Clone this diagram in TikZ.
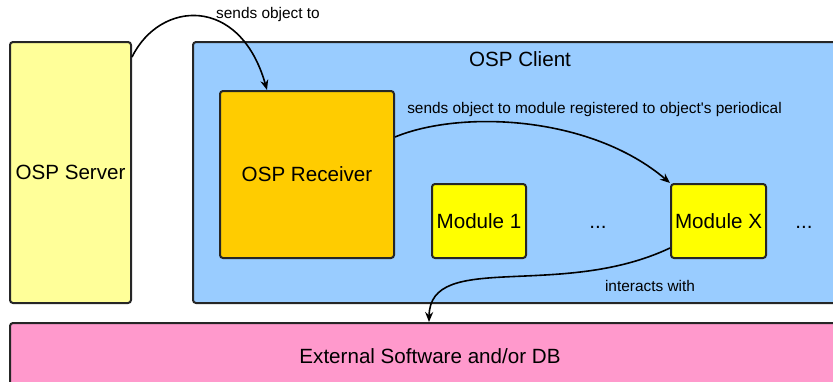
\documentclass[tikz,border=0pt]{standalone}
\usepackage{fontspec}
\setmainfont{Liberation Sans}
\usetikzlibrary{arrows.meta}

\definecolor{serveur}{HTML}{FFFF99}
\definecolor{client}{HTML}{99CCFF}
\definecolor{recepteur}{HTML}{FFCC00}
\definecolor{module}{HTML}{FFFF00}
\definecolor{externe}{HTML}{FF99CC}

\begin{document}
\begin{tikzpicture}[x=0.5pt,y=-0.5pt,
  boite/.style={draw=black!85,line width=1pt,rounded corners=1.5pt,inner sep=0pt,
    font=\fontsize{10.3}{12}\selectfont},
  fleche/.style={-{Stealth[length=5pt,width=4pt]},line width=0.8pt},
  etiq/.style={font=\fontsize{7.7}{9}\selectfont,inner sep=0pt}]

% cadre de l'image
\useasboundingbox (0,0) rectangle (833,381);
\clip (0,0) rectangle (833,381);

% les grandes boites
\node[boite,fill=serveur,minimum width=60.5pt,minimum height=130.5pt] (server) at (70.5,172.5) {OSP Server};
\node[boite,fill=client,minimum width=328.5pt,minimum height=130.5pt] (client) at (521.5,172.5) {};
\node[font=\fontsize{10.3}{12}\selectfont,inner sep=0pt] (clienttitle) at (520,59) {OSP Client};
\node[boite,fill=externe,minimum width=420pt,minimum height=33pt] (ext) at (430,356) {External Software and/or DB};

% dans le client
\node[boite,fill=recepteur,minimum width=87pt,minimum height=83.5pt] (receiver) at (307,174.5) {OSP Receiver};
\node[boite,fill=module,minimum width=47pt,minimum height=37pt] (mod1) at (479,221) {Module 1};
\node[boite,fill=module,minimum width=47.5pt,minimum height=37pt] (modx) at (718.5,221) {Module X};
\node[font=\fontsize{10.3}{12}\selectfont] (dots1) at (598,227) {...};
\node[font=\fontsize{10.3}{12}\selectfont] (dots2) at (804,227) {...};

% les fleches
\draw[fleche] ([yshift=-8pt]server.north east) .. controls (160,0) and (240,-5) .. ([xshift=24pt]receiver.north west);
\draw[fleche] ([yshift=18.75pt]receiver.east) .. controls (460,110) and (590,115) .. (modx.north west);
\draw[fleche] ([yshift=-13.5pt]modx.west) .. controls (560,300) and (430,250) .. ([xshift=210pt]ext.north west);

% textes des fleches
\node[etiq] (lbl1) at (268,15) {sends object to};
\node[etiq] (lbl2) at (594.5,110) {sends object to module registered to object\textquotesingle s periodical};
\node[etiq] (lbl3) at (650,286) {interacts with};
\end{tikzpicture}
\end{document}
